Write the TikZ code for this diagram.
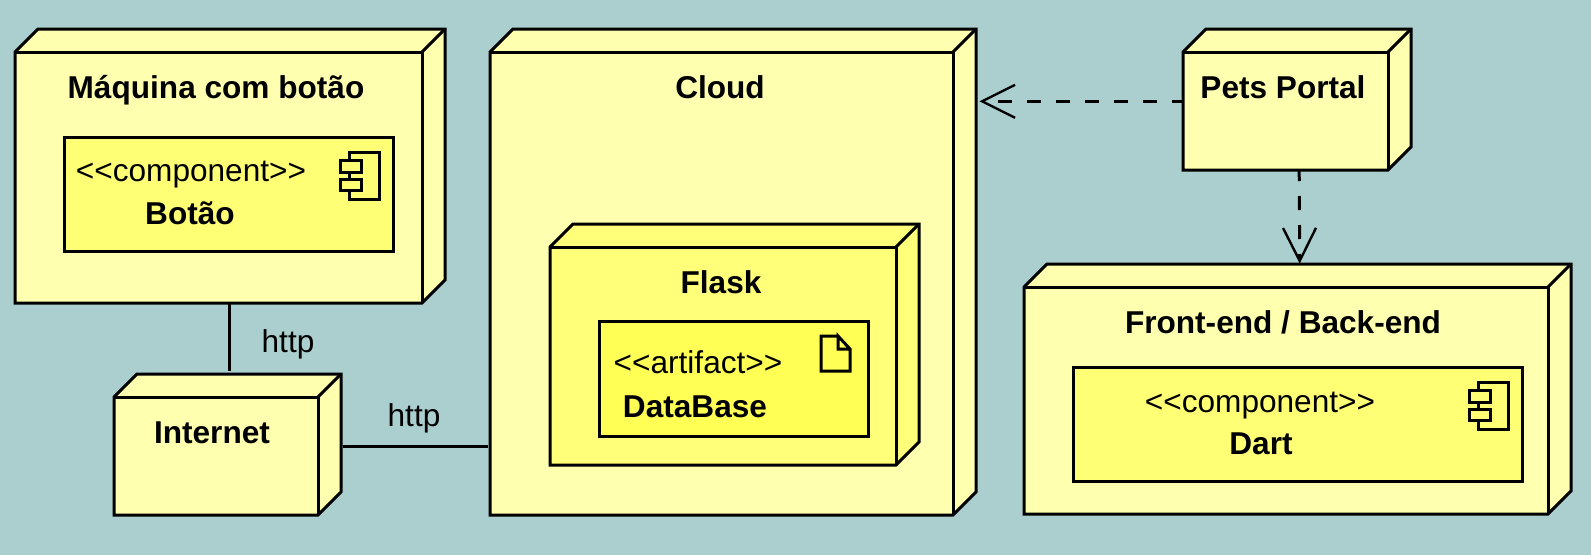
\documentclass[tikz,border=0pt]{standalone}
\usepackage{fontspec}
\setmainfont{Liberation Sans}
\usetikzlibrary{arrows.meta}
\definecolor{backcol}{RGB}{171,207,207}
\definecolor{nodecol}{RGB}{255,255,176}
\definecolor{innercol}{RGB}{255,255,122}
\definecolor{compcol}{RGB}{255,255,118}
\definecolor{artcol}{RGB}{255,255,85}
\tikzset{
  boxline/.style={line width=3pt, line join=miter},
  iconline/.style={line width=3pt},
  wire/.style={line width=3pt},
  dashwire/.style={line width=3pt, dash pattern=on 14pt off 15pt, dash phase=3pt,
    -{Straight Barb[length=33pt, width=33pt, line width=2.4pt]}},
  boldtext/.style={anchor=base, inner sep=0pt, font=\fontsize{31.6}{36}\selectfont\bfseries},
  plaintext/.style={anchor=base, inner sep=0pt, font=\fontsize{31.6}{36}\selectfont},
}
\begin{document}
\begin{tikzpicture}[x=1pt, y=-1pt]
  \fill[backcol] (0, 0) rectangle (1591, 555);
  \useasboundingbox (0, 0) rectangle (1591, 555);
  % the boxes, outer ones before the ones inside them
  \foreach \name/\xa/\ya/\xb/\yb/\col in {maquina/15/52/422/303/nodecol,
      internet/114/397/318/515/nodecol, cloud/490/52/953/515/nodecol,
      flask/550/247/896/465/innercol, pets/1183/52/1388/170/nodecol,
      frontend/1024/287/1548/514/nodecol} {
    \draw[boxline, fill=\col] (\xa, \ya) -- (\xa + 23, \ya - 23) -- (\xb + 23, \ya - 23) --
      (\xb + 23, \yb - 23) -- (\xb, \yb) -- (\xa, \yb) -- cycle;
    \draw[boxline] (\xa, \ya) -- (\xb, \ya) -- (\xb, \yb);
    \draw[boxline] (\xb, \ya) -- (\xb + 23, \ya - 23);
    \node[inner sep=0pt, minimum width={\xb + 23 - \xa}, minimum height={\yb + 23 - \ya},
      anchor=south west] (\name) at (\xa, \yb) {};
  }
  \foreach \name/\xa/\ya/\xb/\yb/\col in {botao/64/137/393/251/compcol,
      database/599/321/868/436/artcol, dart/1073/367/1522/481/compcol} {
    \draw[boxline, fill=\col] (\xa, \ya) rectangle (\xb, \yb)
      node[pos=0.5] (\name) {};
  }
  % icons
  \foreach \ix/\iy in {349/152, 1478/382} {
    \draw[iconline] (\ix, \iy) rectangle (\ix + 30, \iy + 47);
    \draw[iconline, fill=compcol] (\ix - 9, \iy + 8) rectangle (\ix + 12, \iy + 20);
    \draw[iconline, fill=compcol] (\ix - 9, \iy + 27) rectangle (\ix + 12, \iy + 38);
  }
  \draw[iconline] (838, 336) -- (821, 336) -- (821, 371) -- (850, 371) -- (850, 349) -- (838, 336)
    -- (838, 349) -- (850, 349);
  % texts
  \foreach \name/\tx/\ty/\txt in {maquinatxt/216/98/{Máquina com botão}, botaotxt/190/224/Botão,
      internettxt/212/443/Internet, cloudtxt/720/98/Cloud, flasktxt/721/293/Flask,
      databasetxt/695/417/DataBase, petstxt/1283/98/Pets Portal,
      frontendtxt/1283/333/{Front-end / Back-end}, darttxt/1261/454/Dart} {
    \node[boldtext] (\name) at (\tx, \ty) {\txt};
  }
  \foreach \name/\tx/\ty/\txt in {botaoster/191/181/{<{}<component>{}>},
      databaseater/698/373/{<{}<artifact>{}>}, dartster/1260/412/{<{}<component>{}>},
      httpa/288/352/http, httpb/414/426/http} {
    \node[plaintext] (\name) at (\tx, \ty) {\txt};
  }
  % connectors
  \draw[wire, shorten >=3pt] ([xshift=-1pt]maquina.south) -- ([xshift=-1pt]maquina.south |- internet.north);
  \draw[wire, shorten <=2pt, shorten >=2pt] ([yshift=-2pt]internet.east) -- ([yshift=-2pt]internet.east -| cloud.west);
  \draw[dashwire, shorten >=3pt] ([yshift=-2pt]pets.west) -- ([yshift=-2pt]pets.west -| cloud.east);
  \draw[dashwire] ([xshift=2pt]pets.south) -- ([xshift=2pt]frontend.north);
\end{tikzpicture}
\end{document}
